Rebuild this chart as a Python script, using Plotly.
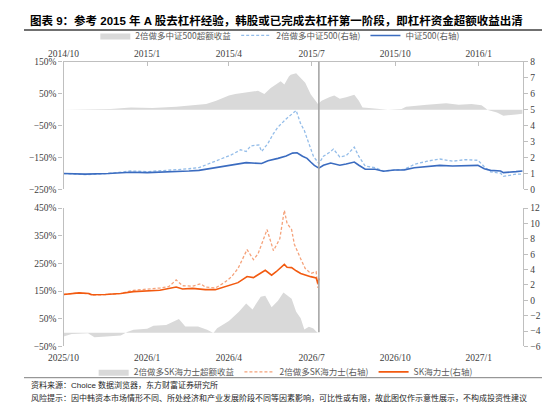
import plotly.graph_objects as go

# ---- 上图：2015年 中证500 ----
csi_dates = ["2014-10-01", "2014-10-25", "2014-11-19", "2014-11-30", "2014-12-14", "2015-01-01",
             "2015-01-15", "2015-02-02", "2015-02-16", "2015-02-27", "2015-03-17", "2015-04-04",
             "2015-04-20", "2015-05-07", "2015-05-14", "2015-05-25", "2015-06-03", "2015-06-10",
             "2015-06-15", "2015-06-21", "2015-06-26", "2015-06-30", "2015-07-04", "2015-07-09",
             "2015-07-14", "2015-07-22", "2015-08-01", "2015-08-08", "2015-08-17", "2015-08-22",
             "2015-08-29", "2015-09-09", "2015-09-18", "2015-09-30", "2015-10-11", "2015-10-22",
             "2015-11-05", "2015-11-19", "2015-12-03", "2015-12-17", "2015-12-31", "2016-01-07",
             "2016-01-14", "2016-01-25", "2016-01-28", "2016-02-11", "2016-02-18"]
csi500 = [1.00, 0.96, 1.00, 1.04, 1.08, 1.06, 1.08, 1.12, 1.16, 1.20, 1.37, 1.57,
          1.68, 1.63, 1.80, 1.95, 2.10, 2.28, 2.30, 2.08, 1.95, 1.72, 1.51, 1.34,
          1.52, 1.66, 1.52, 1.60, 1.72, 1.52, 1.27, 1.27, 1.14, 1.22, 1.23, 1.36,
          1.43, 1.51, 1.47, 1.51, 1.51, 1.30, 1.20, 1.16, 1.06, 1.12, 1.16]

lev_csi_dates = ["2014-10-01", "2014-10-25", "2014-11-19", "2014-11-30", "2014-12-14", "2015-01-01",
                 "2015-01-15", "2015-02-02", "2015-02-16", "2015-02-27", "2015-03-17", "2015-04-04",
                 "2015-04-14", "2015-04-20", "2015-04-25", "2015-05-04", "2015-05-07", "2015-05-14",
                 "2015-05-20", "2015-05-25", "2015-06-03", "2015-06-10", "2015-06-14", "2015-06-19",
                 "2015-06-23", "2015-06-26", "2015-06-30", "2015-07-03", "2015-07-09", "2015-07-14",
                 "2015-07-20", "2015-07-25", "2015-08-01", "2015-08-08", "2015-08-17", "2015-08-22",
                 "2015-08-29", "2015-09-09", "2015-09-18", "2015-09-30", "2015-10-11", "2015-10-22",
                 "2015-11-05", "2015-11-19", "2015-12-03", "2015-12-17", "2015-12-31", "2016-01-07",
                 "2016-01-14", "2016-01-25", "2016-01-28", "2016-02-11", "2016-02-18"]
lev_csi500 = [1.00, 0.93, 1.00, 1.07, 1.16, 1.12, 1.16, 1.24, 1.30, 1.37, 1.77, 2.18,
              2.49, 2.38, 2.73, 2.79, 2.38, 2.89, 3.50, 3.91, 4.42, 4.72, 4.95, 4.11,
              3.70, 3.20, 2.49, 2.08, 1.62, 2.08, 2.30, 2.53, 2.04, 2.12, 2.65, 2.07,
              1.47, 1.36, 1.16, 1.22, 1.26, 1.57, 1.77, 1.91, 1.77, 1.87, 1.83, 1.43,
              1.10, 1.02, 0.82, 0.96, 0.96]

exc_csi_dates = ["2014-10-01", "2014-11-10", "2014-11-22", "2014-12-14", "2015-01-07", "2015-02-02",
                 "2015-02-20", "2015-03-07", "2015-03-18", "2015-04-01", "2015-04-08", "2015-04-23",
                 "2015-05-03", "2015-05-10", "2015-05-17", "2015-05-28", "2015-06-01", "2015-06-06",
                 "2015-06-08", "2015-06-14", "2015-06-19", "2015-06-24", "2015-06-30", "2015-07-05",
                 "2015-07-08", "2015-07-12", "2015-07-21", "2015-07-26", "2015-08-01", "2015-08-08",
                 "2015-08-17", "2015-08-22", "2015-08-26", "2015-09-02", "2015-09-13", "2015-09-23",
                 "2015-10-08", "2015-10-13", "2015-11-05", "2015-11-26", "2015-12-10", "2015-12-24",
                 "2016-01-04", "2016-01-11", "2016-01-21", "2016-01-28", "2016-02-11", "2016-02-18"]
exc_csi500 = [0, 0, 2, 7, 5, 9, 15, 18, 28, 44, 49, 54,
              59, 49, 68, 89, 79, 104, 109, 114, 99, 84, 48, 28,
              18, 28, 40, 44, 34, 39, 47, 28, 7, 5, 2, 0,
              2, 9, 15, 20, 15, 18, 14, -1, -9, -19, -15, -13]

# ---- 下图：2026年 SK海力士 ----
sk_dates = ["2025-10-01", "2025-10-18", "2025-10-29", "2025-11-01", "2025-11-16", "2025-12-03",
            "2025-12-17", "2026-01-01", "2026-01-15", "2026-02-02", "2026-02-09", "2026-02-20",
            "2026-03-06", "2026-03-17", "2026-03-27", "2026-04-11", "2026-04-21", "2026-04-28",
            "2026-05-11", "2026-05-18", "2026-05-23", "2026-06-01", "2026-06-04", "2026-06-09",
            "2026-06-14", "2026-06-19", "2026-06-30", "2026-07-06", "2026-07-08", "2026-07-09"]
sk_hynix = [0.76, 0.97, 0.88, 0.72, 0.76, 0.88, 1.13, 1.18, 1.31, 1.73, 1.47, 1.55,
            1.39, 1.39, 1.73, 2.30, 3.10, 2.96, 3.90, 3.27, 3.72, 4.67, 4.30, 4.25,
            3.84, 3.50, 3.08, 2.90, 2.20, 2.85]

lev_sk_dates = ["2025-10-01", "2025-10-18", "2025-10-29", "2025-11-01", "2025-11-16", "2025-12-03",
                "2025-12-17", "2026-01-01", "2026-01-15", "2026-01-25", "2026-02-02", "2026-02-09",
                "2026-02-20", "2026-03-01", "2026-03-06", "2026-03-17", "2026-03-27", "2026-04-04",
                "2026-04-11", "2026-04-21", "2026-04-28", "2026-05-03", "2026-05-13", "2026-05-20",
                "2026-05-27", "2026-06-01", "2026-06-04", "2026-06-09", "2026-06-12", "2026-06-19",
                "2026-06-24", "2026-06-30", "2026-07-06", "2026-07-08", "2026-07-09"]
lev_sk_hynix = [0.76, 0.97, 0.85, 0.68, 0.74, 0.90, 1.30, 1.45, 1.60, 1.80, 2.65, 1.90,
                1.85, 2.15, 1.73, 1.60, 2.30, 3.08, 4.14, 6.60, 5.30, 6.03, 9.20, 6.46,
                8.00, 11.70, 10.00, 9.20, 7.30, 5.40, 4.14, 3.50, 3.72, 1.60, 2.80]

exc_sk_dates = ["2025-10-01", "2025-10-10", "2025-10-28", "2025-11-04", "2025-11-17", "2025-12-03",
                "2025-12-10", "2025-12-17", "2026-01-01", "2026-01-08", "2026-01-22", "2026-02-05",
                "2026-02-12", "2026-02-26", "2026-03-08", "2026-03-15", "2026-03-19", "2026-04-01",
                "2026-04-12", "2026-04-20", "2026-04-27", "2026-05-06", "2026-05-11", "2026-05-18",
                "2026-05-25", "2026-05-31", "2026-06-09", "2026-06-14", "2026-06-19", "2026-06-23",
                "2026-06-28", "2026-07-03", "2026-07-06", "2026-07-08"]
exc_sk_hynix = [-14, -5, -2, -17, -14, -10, 2, 10, 14, 25, 28, 49,
                22, 22, 10, -1, 16, 42, 75, 105, 84, 130, 133, 92,
                115, 145, 122, 75, 52, 11, 21, 15, 4, 0]

# 坐标轴刻度
top_tick_vals = ["2014-10-01", "2015-01-01", "2015-04-01", "2015-07-01", "2015-10-01", "2016-01-01"]
top_tick_text = ["2014/10", "2015/1", "2015/4", "2015/7", "2015/10", "2016/1"]
bot_tick_vals = ["2025-10-01", "2026-01-01", "2026-04-01", "2026-07-01", "2026-10-01", "2027-01-01"]
bot_tick_text = ["2025/10", "2026/1", "2026/4", "2026/7", "2026/10", "2027/1"]

W, H = 550, 402


def px(y):
    # pixel row -> paper fraction
    return 1 - y / H


GRAY = "#d9d9d9"
AXIS = "#bfbfbf"
TICKFONT = dict(family="Liberation Serif", size=9.5, color="#404040")
LEGFONT = dict(family="Noto Sans CJK SC", size=8.5, color="#595959")
XDOM = [40.7 / W, 514.3 / W]
DASH = "3px,2px"

fig = go.Figure()

# top chart traces
fig.add_trace(go.Scatter(x=exc_csi_dates, y=exc_csi500, name="2倍做多中证500超额收益",
                         mode="lines", fill="tozeroy", fillcolor=GRAY, line=dict(width=0, color=GRAY),
                         xaxis="x", yaxis="y", legend="legend"))
fig.add_trace(go.Scatter(x=lev_csi_dates, y=lev_csi500, name="2倍做多中证500(右轴)",
                         mode="lines", line=dict(color="#94bde9", width=1.3, dash=DASH),
                         xaxis="x", yaxis="y2", legend="legend"))
fig.add_trace(go.Scatter(x=csi_dates, y=csi500, name="中证500(右轴)",
                         mode="lines", line=dict(color="#3b6cc0", width=1.6),
                         xaxis="x", yaxis="y2", legend="legend"))

# bottom chart traces
fig.add_trace(go.Scatter(x=exc_sk_dates, y=exc_sk_hynix, name="2倍做多SK海力士超额收益",
                         mode="lines", fill="tozeroy", fillcolor=GRAY, line=dict(width=0, color=GRAY),
                         xaxis="x2", yaxis="y3", legend="legend2"))
fig.add_trace(go.Scatter(x=lev_sk_dates, y=lev_sk_hynix, name="2倍做多SK海力士(右轴)",
                         mode="lines", line=dict(color="#f5a27a", width=1.3, dash=DASH),
                         xaxis="x2", yaxis="y4", legend="legend2"))
fig.add_trace(go.Scatter(x=sk_dates, y=sk_hynix, name="SK海力士(右轴)",
                         mode="lines", line=dict(color="#f25a10", width=1.6),
                         xaxis="x2", yaxis="y4", legend="legend2"))

top_dom = [px(181), px(50)]
bot_dom = [px(342), px(200)]
top_zero = px(99.1)
bot_zero = px(327.3)

fig.update_layout(
    width=W, height=H, margin=dict(l=0, r=0, t=0, b=0),
    paper_bgcolor="white", plot_bgcolor="white", showlegend=True,
    xaxis=dict(domain=XDOM, anchor="y", side="top", type="date",
               range=["2014-10-01", "2016-02-19"], tickvals=top_tick_vals, ticktext=top_tick_text,
               showline=True, linecolor=AXIS, linewidth=1.2, ticks="inside", ticklen=4,
               tickcolor=AXIS, showgrid=False, zeroline=False, tickfont=TICKFONT),
    xaxis3=dict(overlaying="x", anchor="free", position=top_zero, type="date",
                range=["2014-10-01", "2016-02-19"], tickvals=top_tick_vals,
                showticklabels=False, showline=True, linecolor=AXIS, linewidth=1.2,
                ticks="outside", ticklen=4, tickcolor=AXIS, showgrid=False, zeroline=False),
    yaxis=dict(domain=top_dom, anchor="x", range=[-250, 150], tick0=50, dtick=100,
               ticksuffix="%", showline=True, linecolor=AXIS, linewidth=1.2, ticks="outside",
               ticklen=4, tickcolor=AXIS, showgrid=False, zeroline=False, tickfont=TICKFONT),
    yaxis2=dict(overlaying="y", side="right", anchor="x", range=[0, 8], dtick=1,
                showline=True, linecolor=AXIS, linewidth=1.2, ticks="outside", ticklen=4,
                tickcolor=AXIS, showgrid=False, zeroline=False, tickfont=TICKFONT),
    xaxis2=dict(domain=XDOM, anchor="y3", type="date",
                range=["2025-10-01", "2027-02-19"], tickvals=bot_tick_vals, ticktext=bot_tick_text,
                showline=False, ticks="", showgrid=False, zeroline=False, tickfont=TICKFONT,
                ticklabelstandoff=4),
    xaxis4=dict(overlaying="x2", anchor="free", position=bot_zero, type="date",
                range=["2025-10-01", "2027-02-19"], tickvals=bot_tick_vals,
                showticklabels=False, showline=True, linecolor=AXIS, linewidth=1.2,
                ticks="outside", ticklen=4, tickcolor=AXIS, showgrid=False, zeroline=False),
    yaxis3=dict(domain=bot_dom, anchor="x2", range=[-50, 450], tick0=50, dtick=100,
                ticksuffix="%", showline=True, linecolor=AXIS, linewidth=1.2, ticks="outside",
                ticklen=4, tickcolor=AXIS, showgrid=False, zeroline=False, tickfont=TICKFONT),
    yaxis4=dict(overlaying="y3", side="right", anchor="x2", range=[-6, 12], dtick=2,
                showline=True, linecolor=AXIS, linewidth=1.2, ticks="outside", ticklen=4,
                tickcolor=AXIS, showgrid=False, zeroline=False, tickfont=TICKFONT),
    legend=dict(orientation="h", x=0.48, xanchor="center", y=px(23), yanchor="middle",
                font=LEGFONT, bgcolor="rgba(0,0,0,0)", itemwidth=30, traceorder="normal"),
    legend2=dict(orientation="h", x=0.49, xanchor="center", y=px(368), yanchor="middle",
                 font=LEGFONT, bgcolor="rgba(0,0,0,0)", itemwidth=30, traceorder="normal"),
)

# vertical marker through both panels, title rule, footer rule
fig.add_shape(type="line", xref="x", yref="paper", x0="2015-07-09", x1="2015-07-09",
              y0=bot_zero, y1=top_dom[1], line=dict(color="#a6a6a6", width=1.6))
fig.add_shape(type="line", xref="paper", yref="paper", x0=0, x1=1, y0=px(17.5), y1=px(17.5),
              line=dict(color="#404040", width=1.5))
fig.add_shape(type="line", xref="paper", yref="paper", x0=0, x1=1, y0=px(374), y1=px(374),
              line=dict(color="#7f7f7f", width=1))

fig.add_annotation(text="<b>图表 9：参考 2015 年 A 股去杠杆经验，韩股或已完成去杠杆第一阶段，即杠杆资金超额收益出清</b>",
                   xref="paper", yref="paper", x=4 / W, y=px(8), xanchor="left", yanchor="middle",
                   showarrow=False, font=dict(family="Liberation Sans, Noto Sans CJK SC", size=11.5, color="#000000"))
fig.add_annotation(text="资料来源：Choice 数据浏览器，东方财富证券研究所",
                   xref="paper", yref="paper", x=5 / W, y=px(382), xanchor="left", yanchor="middle",
                   showarrow=False, font=dict(family="Liberation Sans, Noto Sans CJK SC", size=8, color="#262626"))
fig.add_annotation(text="风险提示：因中韩资本市场情形不同、所处经济和产业发展阶段不同等因素影响，可比性或有限，故此图仅作示意性展示，不构成投资性建议",
                   xref="paper", yref="paper", x=5 / W, y=px(394), xanchor="left", yanchor="middle",
                   showarrow=False, font=dict(family="Noto Sans CJK SC", size=8, color="#262626"))

fig.write_html("out.html")
